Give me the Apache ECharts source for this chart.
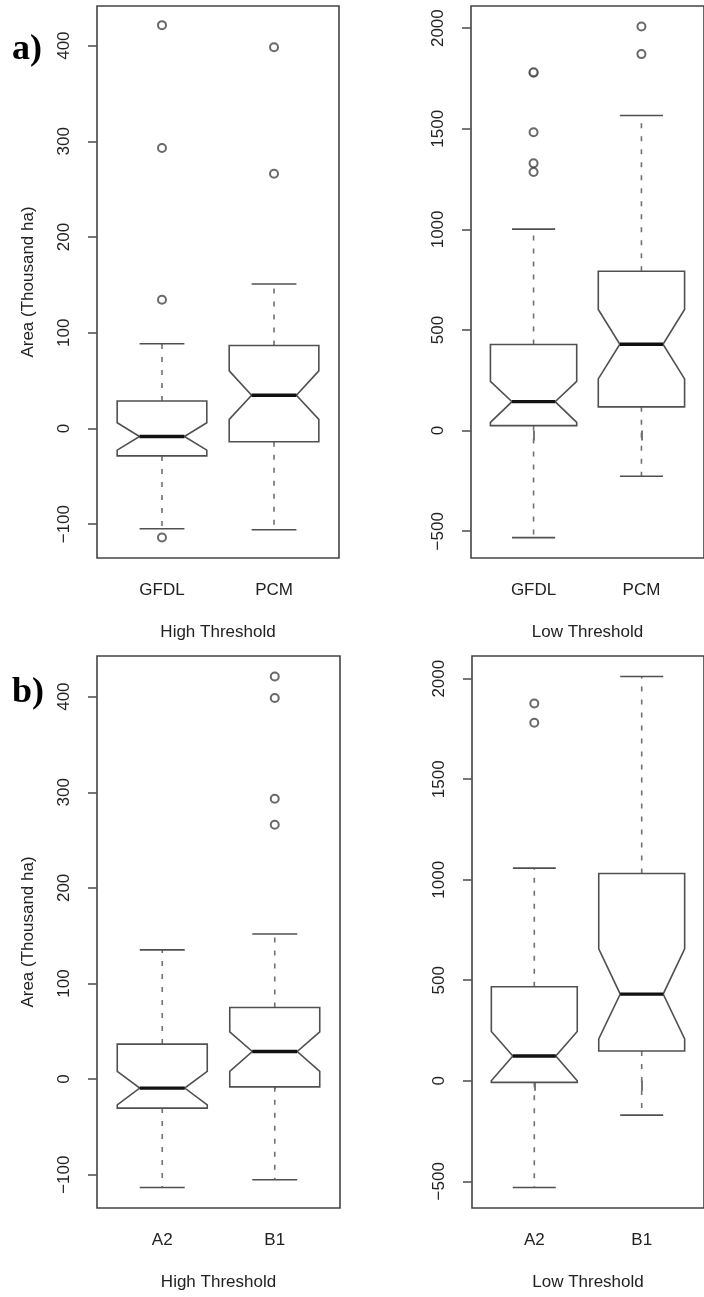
<!DOCTYPE html>
<html>
<head>
<meta charset="utf-8">
<script src="https://cdn.jsdelivr.net/npm/echarts@6/dist/echarts.min.js"></script>
<style>
html,body{margin:0;padding:0;background:#fff;}
#chart{width:704px;height:1297px;}
</style>
</head>
<body>
<div id="chart"></div>
<script>
// ---- data ----
const gcmCats = ['GFDL', 'PCM'];
const scenCats = ['A2', 'B1'];
// each box: [lowerWhisker, Q1, notchLow, median, notchHigh, Q3, upperWhisker]
const gcmHighStats = [[-104.8, -28.7, -22.7, -8.4, 5.9, 28.6, 88.4], [-105.9, -14.0, 9.4, 34.6, 60.1, 86.6, 150.9]];
const gcmHighOut = [[-114, 134.5, 293.1, 421.4], [266.2, 398.3]];
const gcmLowStats = [[-532, 25, 41, 144, 245, 428, 1001], [-227, 118, 257, 429, 602, 792, 1566]];
const gcmLowOut = [[1778, 1781, 1483, 1328, 1285], [2008, 1871]];
const scenHighStats = [[-113.4, -30.3, -26.9, -9.4, 8.0, 36.6, 135.2], [-105.3, -8.1, 8.0, 28.9, 49.5, 74.9, 151.7]];
const scenHighOut = [[], [421.1, 398.5, 293.2, 266.0]];
const scenLowStats = [[-531, -8, 0, 123, 245, 468, 1058], [-171, 148, 208, 431, 656, 1031, 2011]];
const scenLowOut = [[1877, 1781], []];
const highTicks = [-100, 0, 100, 200, 300, 400];
const lowTicks = [-500, 0, 500, 1000, 1500, 2000];
const panelTitles = ['High Threshold', 'Low Threshold', 'High Threshold', 'Low Threshold'];
const yTitle = 'Area (Thousand ha)';

// ---- layout ----
const FONT = 'Liberation Sans, Arial, sans-serif';
const LINE = '#505050';
const panels = [
  {cats: gcmCats, stats: gcmHighStats, out: gcmHighOut, ticks: highTicks, min: -135.4, max: 441.4, grid: {left: 97, top: 6, width: 242, height: 552}, yname: true},
  {cats: gcmCats, stats: gcmLowStats, out: gcmLowOut, ticks: lowTicks, min: -633, max: 2110, grid: {left: 471, top: 6, width: 241, height: 552}, yname: false},
  {cats: scenCats, stats: scenHighStats, out: scenHighOut, ticks: highTicks, min: -134.8, max: 442.5, grid: {left: 97, top: 656, width: 243, height: 552}, yname: true},
  {cats: scenCats, stats: scenLowStats, out: scenLowOut, ticks: lowTicks, min: -633, max: 2113, grid: {left: 472, top: 656, width: 241, height: 552}, yname: false}
];

function renderBox(params, api) {
  const x = api.value(0);
  const wlo = api.value(1), q1 = api.value(2), nlo = api.value(3), med = api.value(4),
        nhi = api.value(5), q3 = api.value(6), whi = api.value(7);
  const h = api.size([0.8, 0])[0] / 2;
  const cx = api.coord([x, 0])[0];
  const y = v => api.coord([x, v])[1];
  const boxStyle = {stroke: LINE, fill: '#fff', lineWidth: 1.6};
  const dashStyle = {stroke: '#707070', lineWidth: 1.6, lineDash: [5, 8]};
  return {
    type: 'group',
    children: [
      {type: 'line', shape: {x1: cx, y1: y(q3), x2: cx, y2: y(whi)}, style: dashStyle},
      {type: 'line', shape: {x1: cx, y1: y(q1), x2: cx, y2: y(wlo)}, style: dashStyle},
      {type: 'line', shape: {x1: cx - h / 2, y1: y(whi), x2: cx + h / 2, y2: y(whi)}, style: {stroke: LINE, lineWidth: 1.6}},
      {type: 'line', shape: {x1: cx - h / 2, y1: y(wlo), x2: cx + h / 2, y2: y(wlo)}, style: {stroke: LINE, lineWidth: 1.6}},
      {type: 'polygon', shape: {points: [
        [cx - h, y(q1)], [cx + h, y(q1)], [cx + h, y(nlo)], [cx + h / 2, y(med)], [cx + h, y(nhi)],
        [cx + h, y(q3)], [cx - h, y(q3)], [cx - h, y(nhi)], [cx - h / 2, y(med)], [cx - h, y(nlo)]
      ]}, style: boxStyle},
      {type: 'line', shape: {x1: cx - h / 2, y1: y(med), x2: cx + h / 2, y2: y(med)}, style: {stroke: '#111', lineWidth: 3.4}}
    ]
  };
}

const grids = [], xAxes = [], yAxes = [], series = [];
panels.forEach((p, i) => {
  grids.push(Object.assign({show: true, borderColor: '#444', borderWidth: 1.6, backgroundColor: 'transparent'}, p.grid));
  xAxes.push({
    type: 'value', gridIndex: i, min: 0.42, max: 2.58,
    splitLine: {show: false}, axisLine: {show: false},
    axisTick: {show: true, customValues: [1, 2], length: 10, lineStyle: {color: '#555', width: 1.6}},
    axisLabel: {show: true, customValues: [1, 2], margin: 24, fontSize: 17, color: '#222', fontFamily: FONT,
      formatter: (v) => p.cats[Math.round(v) - 1] || ''},
    name: panelTitles[i], nameLocation: 'middle', nameGap: 66,
    nameTextStyle: {fontSize: 17, color: '#222', fontFamily: FONT}
  });
  yAxes.push({
    type: 'value', gridIndex: i, min: p.min, max: p.max,
    splitLine: {show: false}, axisLine: {show: false},
    axisTick: {show: true, customValues: p.ticks, length: 9, lineStyle: {color: '#555', width: 1.6}},
    axisLabel: {show: true, customValues: p.ticks, rotate: 90, margin: 24, fontSize: 17, color: '#222', fontFamily: FONT,
      formatter: (v) => String(v).replace('-', '\u2212')},
    name: p.yname ? yTitle : '', nameLocation: 'middle', nameGap: 60, nameRotate: 90,
    nameTextStyle: {fontSize: 17, color: '#222', fontFamily: FONT}
  });
  series.push({
    type: 'custom', xAxisIndex: i, yAxisIndex: i,
    renderItem: renderBox,
    encode: {x: 0, y: [1, 2, 3, 4, 5, 6, 7]},
    data: p.stats.map((s, k) => [k + 1].concat(s)),
    silent: true, animation: false
  });
  const pts = [];
  p.out.forEach((arr, k) => arr.forEach(v => pts.push([k + 1, v])));
  series.push({
    type: 'scatter', xAxisIndex: i, yAxisIndex: i,
    symbol: 'emptyCircle', symbolSize: 8,
    itemStyle: {color: '#444', borderColor: '#444', borderWidth: 1.4},
    data: pts, silent: true, animation: false, z: 5
  });
});

const chart = echarts.init(document.getElementById('chart'), null, {renderer: 'canvas'});
chart.setOption({
  animation: false,
  backgroundColor: '#fff',
  grid: grids, xAxis: xAxes, yAxis: yAxes, series: series,
  graphic: [
    {type: 'text', left: 12, top: 32, style: {text: 'a)', font: 'bold 36px "Liberation Serif", "Times New Roman", serif', fill: '#000'}},
    {type: 'text', left: 12, top: 675, style: {text: 'b)', font: 'bold 36px "Liberation Serif", "Times New Roman", serif', fill: '#000'}}
  ]
});
</script>
</body>
</html>
